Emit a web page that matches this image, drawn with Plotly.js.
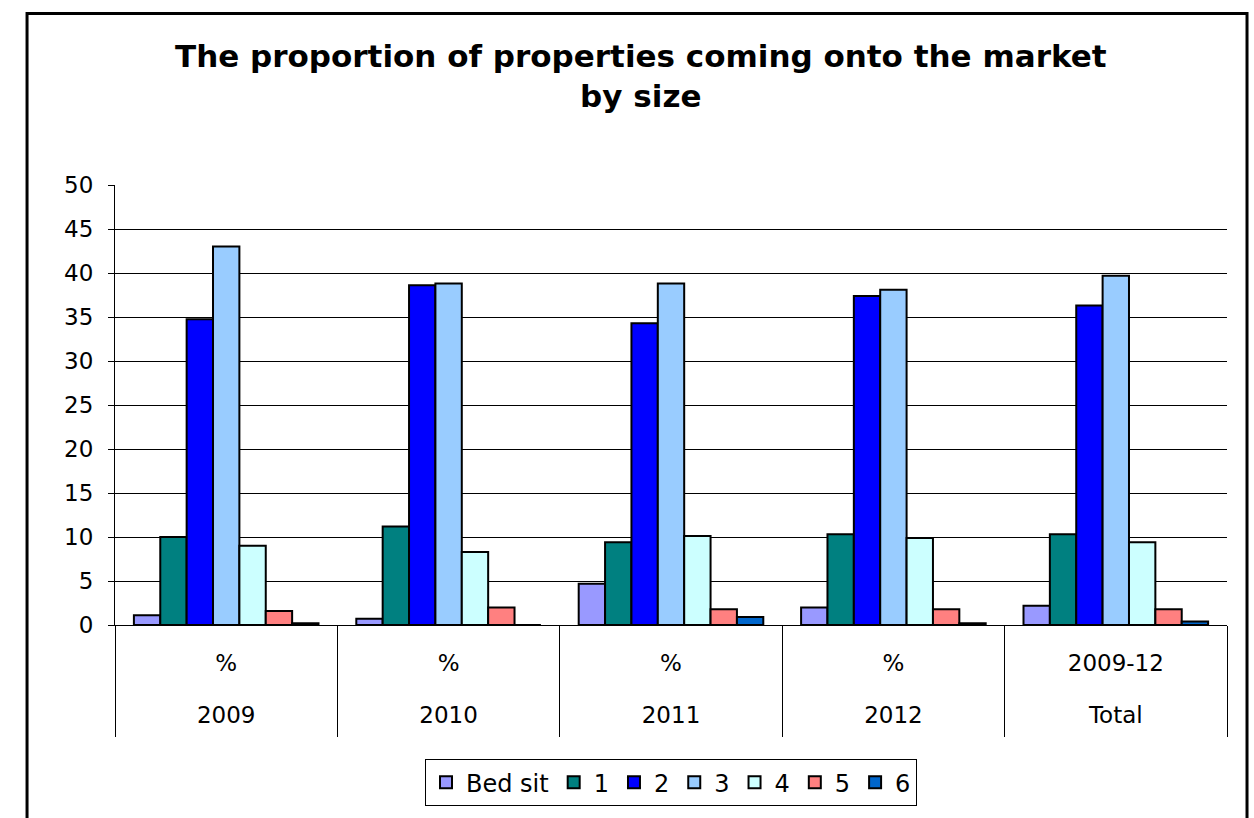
<!DOCTYPE html>
<html>
<head>
<meta charset="utf-8">
<script src="https://cdn.plot.ly/plotly-3.0.1.min.js"></script>
<style>
html,body{margin:0;padding:0;background:#fff;}
#chart{width:1254px;height:818px;}
</style>
</head>
<body>
<div id="chart"></div>
<script>
const outerLabels = ["2009", "2010", "2011", "2012", "Total"];
const innerLabels = ["%", "%", "%", "%", "2009-12"];
const seriesNames = ["Bed sit", "1", "2", "3", "4", "5", "6"];
const bedSit = [1.1, 0.7, 4.7, 2.0, 2.2];
const one    = [10.0, 11.2, 9.4, 10.3, 10.3];
const two    = [34.75, 38.6, 34.3, 37.4, 36.3];
const three  = [43.0, 38.8, 38.8, 38.1, 39.7];
const four   = [9.0, 8.3, 10.1, 9.9, 9.4];
const five   = [1.6, 2.0, 1.8, 1.8, 1.8];
const six    = [0.2, 0.0, 0.9, 0.2, 0.4];
const colors = ["#9999FF", "#008080", "#0000FF", "#99CCFF", "#CCFFFF", "#FF8080", "#0066CC"];

const allSeries = [bedSit, one, two, three, four, five, six];
const font = "DejaVu Sans, Verdana, sans-serif";

const traces = allSeries.map((vals, i) => ({
  type: "bar",
  name: seriesNames[i],
  x: outerLabels,
  y: vals,
  marker: {color: colors[i], line: {color: "#000", width: 2}},
  hoverinfo: "y+name"
}));
// helper traces so the overlay axes know the categories
["x2", "x3"].forEach(ax => traces.push({
  type: "scatter", mode: "none", x: outerLabels, y: outerLabels.map(() => 0),
  xaxis: ax, yaxis: "y", showlegend: false, hoverinfo: "skip"
}));

const layout = {
  width: 1254, height: 818,
  margin: {l: 115, r: 27, t: 185, b: 187},
  paper_bgcolor: "#fff", plot_bgcolor: "#fff",
  font: {family: font, size: 23, color: "#000"},
  title: {
    text: "<b>The proportion of properties coming onto the market<br>by size</b>",
    font: {family: font, size: 31, color: "#000"},
    x: 0.511, xref: "container", xanchor: "center",
    y: 0.918, yref: "container", yanchor: "top", automargin: false
  },
  barmode: "group",
  bargap: 0.17,
  bargroupgap: 0,
  xaxis: {
    type: "category", automargin: false,
    showline: true, linecolor: "#000", linewidth: 1,
    ticks: "", tickmode: "array", tickvals: outerLabels, ticktext: innerLabels,
    ticklabelstandoff: 17,
    tickfont: {family: font, size: 23, color: "#000"}
  },
  xaxis2: {
    type: "category", overlaying: "x", matches: "x", side: "bottom", automargin: false,
    showline: false, showgrid: false, zeroline: false,
    ticks: "", ticklabelstandoff: 74,
    tickfont: {family: font, size: 23, color: "#000"}
  },
  xaxis3: {
    type: "category", overlaying: "x", matches: "x", side: "bottom", automargin: false,
    showline: false, showgrid: false, zeroline: false, showticklabels: false,
    ticks: "outside", tickson: "boundaries", ticklen: 111, tickcolor: "#000", tickwidth: 1
  },
  yaxis: {
    range: [0, 50], dtick: 5, tick0: 0, automargin: false,
    showline: true, linecolor: "#000", linewidth: 1,
    ticks: "outside", ticklen: 6, tickcolor: "#000",
    showgrid: true, gridcolor: "#000", gridwidth: 1,
    zeroline: false, ticklabelstandoff: 10,
    tickfont: {family: font, size: 23, color: "#000"}
  },
  legend: {
    orientation: "h", x: 0.5, xanchor: "center", y: -0.305, yanchor: "top",
    bordercolor: "#000", borderwidth: 1,
    font: {family: font, size: 24, color: "#000"},
    traceorder: "normal"
  },
  shapes: [{
    type: "rect", xref: "paper", yref: "paper",
    x0: -0.0791, x1: 1.018, y0: -0.45, y1: 1.39,
    line: {color: "#000", width: 3}, fillcolor: "rgba(0,0,0,0)"
  }],
  showlegend: true
};

Plotly.newPlot("chart", traces, layout, {displayModeBar: false});
</script>
</body>
</html>
